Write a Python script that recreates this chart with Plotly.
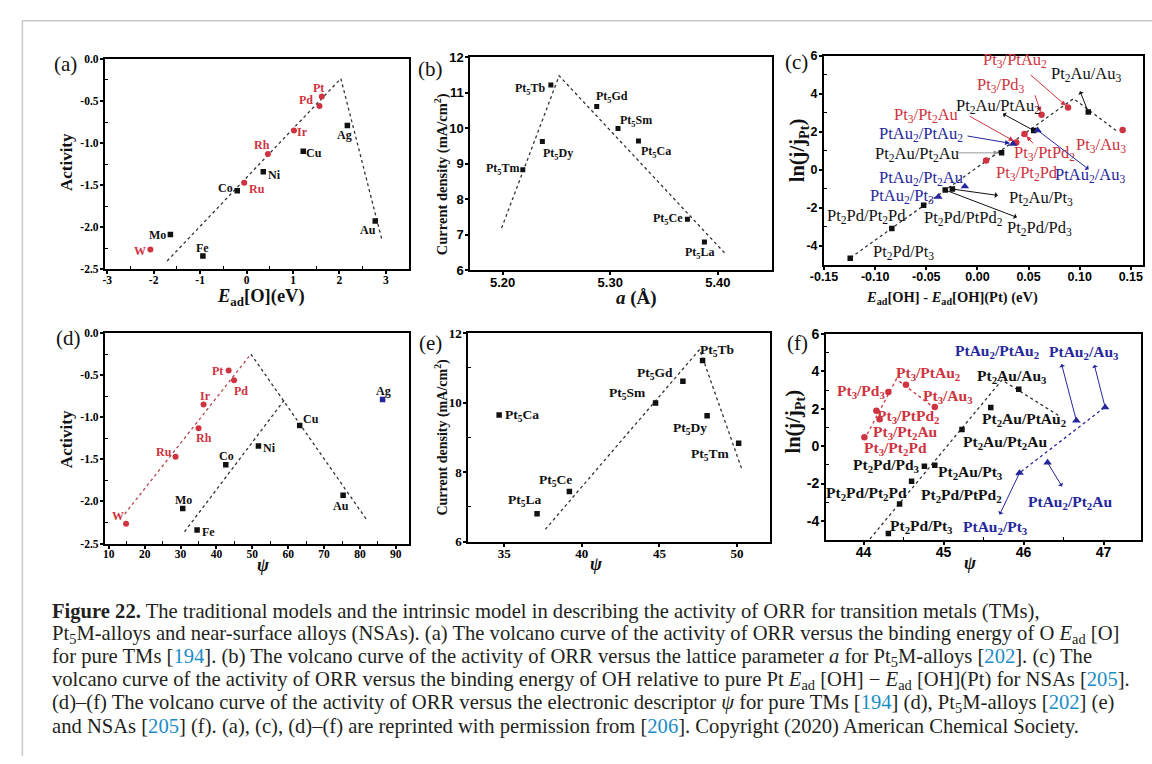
import plotly.graph_objects as go

FIG_W, FIG_H = 1152, 764

# ---------------- data ----------------
# Pure transition metals: ORR activity vs E_ad[O] (a) and vs psi (d)
tm_names = ["Pt", "Pd", "Ir", "Rh", "Ru", "W", "Ag", "Cu", "Ni", "Co", "Mo", "Fe", "Au"]
tm_activity = [-0.445, -0.56, -0.85, -1.13, -1.47, -2.265, -0.79, -1.097, -1.34, -1.565, -2.085, -2.34, -1.925]
tm_e_ad_o = [1.62, 1.57, 1.02, 0.46, -0.05, -2.07, 2.17, 1.22, 0.36, -0.20, -1.64, -0.94, 2.77]
tm_psi = [43.4, 44.9, 36.4, 35.0, 28.6, 14.8, 86.3, 63.2, 51.7, 42.6, 30.6, 34.6, 75.3]
tm_red = ["Pt", "Pd", "Ir", "Rh", "Ru", "W"]

# Pt5M alloys: current density vs lattice parameter (b) and vs psi (e)
pt5_m = ["Tb", "Gd", "Sm", "Ca", "Dy", "Tm", "Ce", "La"]
pt5_current = [11.21, 10.61, 9.99, 9.64, 9.62, 8.83, 7.44, 6.80]
pt5_lattice = [5.2448, 5.2874, 5.3072, 5.3262, 5.2369, 5.2187, 5.3717, 5.3875]
pt5_psi = [47.78, 46.51, 44.75, 34.68, 48.07, 50.10, 39.20, 37.12]

# Near-surface alloys: ln(j/jPt) vs dE_ad[OH] (c) and vs psi (f)
nsa_names = ["Pt3/PtAu2", "Pt3/Pd3", "Pt3/Au3", "Pt3/PtPd2", "Pt3/Pt2Au", "Pt3/Pt2Pd",
             "Pt2Au/Au3", "Pt2Au/PtAu2", "Pt2Au/Pt2Au", "Pt2Au/Pt3", "Pt2Pd/Pd3",
             "Pt2Pd/PtPd2", "Pt2Pd/Pt2Pd", "Pt2Pd/Pt3",
             "PtAu2/PtAu2", "PtAu2/Au3", "PtAu2/Pt2Au", "PtAu2/Pt3"]
nsa_family = ["Pt3"] * 6 + ["Pt2"] * 8 + ["PtAu2"] * 4
nsa_ln_j = [3.28, 2.90, 2.09, 1.89, 1.44, 0.48,
            3.05, 2.07, 0.89, -1.02, -1.07, -1.88, -3.10, -4.67,
            1.37, 2.08, -0.88, -1.43]
nsa_d_e_oh = [0.0886, 0.0627, 0.142, 0.046, 0.038, 0.0085,
              0.1084, 0.055, 0.0236, -0.0245, -0.0315, -0.0526, -0.0837, -0.1244,
              0.0348, 0.0588, -0.0123, -0.0382]
nsa_psi = [44.53, 44.31, 44.89, 44.16, 44.20, 44.01,
           45.94, 45.59, 45.23, 44.89, 44.76, 44.60, 44.45, 44.31,
           46.66, 47.02, 46.30, 45.95]

# volcano guide lines
a_guide_x = [-1.71, 2.03, 2.91]
a_guide_y = [-2.40, -0.233, -2.14]
b_guide_x = [5.199, 5.2525, 5.4066]
b_guide_y = [7.19, 11.47, 6.48]
c_guide_x = [-0.124, 0.094, 0.1357]
c_guide_y = [-4.64, 3.75, 2.06]
d_guide_red_x = [14.4, 49.6]
d_guide_red_y = [-2.15, -0.25]
d_guide_black_x = [49.6, 81.75]
d_guide_black_y = [-0.25, -2.21]
d_guide_black2_x = [31.1, 59.0]
d_guide_black2_y = [-2.36, -0.79]
e_guide_x = [37.65, 47.59, 50.3]
e_guide_y = [6.35, 11.53, 8.09]
f_guide_red_x = [44.01, 44.41, 44.90]
f_guide_red_y = [0.36, 3.59, 2.00]
f_guide_black_x = [44.08, 45.73, 46.46]
f_guide_black_y = [-4.96, 3.54, 1.58]
f_guide_blue_x = [45.91, 47.02]
f_guide_blue_y = [-1.56, 2.10]

# tick labels
a_xticks = [-3, -2, -1, 0, 1, 2, 3]
a_yticks = [0, -0.5, -1.0, -1.5, -2.0, -2.5]
a_yticklabels = ["0.0", "-0.5", "-1.0", "-1.5", "-2.0", "-2.5"]
b_xticks = [5.20, 5.30, 5.40]
b_xticklabels = ["5.20", "5.30", "5.40"]
b_yticks = [6, 7, 8, 9, 10, 11, 12]
c_xticks = [-0.15, -0.10, -0.05, 0.0, 0.05, 0.10, 0.15]
c_xticklabels = ["-0.15", "-0.10", "-0.05", "0.00", "0.05", "0.10", "0.15"]
c_yticks = [-4, -2, 0, 2, 4, 6]
d_xticks = [10, 20, 30, 40, 50, 60, 70, 80, 90]
e_xticks = [35, 40, 45, 50]
e_yticks = [6, 8, 10, 12]
f_xticks = [44, 45, 46, 47]
f_yticks = [-4, -2, 0, 2, 4, 6]

# ---------------- style ----------------
RED = "#cf3340"
BLUE = "#26269c"
BLACK = "#111111"
GUIDE = "#333333"
SERIF = "Liberation Serif"
SANS = "Liberation Sans"
FAMILY_COLOR = {"Pt3": RED, "Pt2": BLACK, "PtAu2": BLUE}
FAMILY_SYMBOL = {"Pt3": "circle", "Pt2": "square", "PtAu2": "triangle-up"}
FAMILY_SIZE = {"Pt3": 6.5, "Pt2": 5.5, "PtAu2": 7.5}

fig = go.Figure()


def ref(n):
    return ("x", "y") if n == 1 else (f"x{n}", f"y{n}")


def sub_html(name):
    # turn "Pt2Au/PtAu2" into HTML with subscript digits
    out = ""
    for ch in name:
        out += f"<sub>{ch}</sub>" if ch.isdigit() else ch
    return out


def setup_axes(n, box, xr, yr, xt, xtl, yt, ytl, tfont, xminor=None, yminor=None):
    x0, y0, x1, y1 = box
    xa = dict(domain=[x0 / FIG_W, x1 / FIG_W], range=xr, anchor=ref(n)[1],
              showline=True, linecolor="black", linewidth=2, mirror=True,
              ticks="outside", ticklen=3, tickwidth=1.5, tickcolor="black",
              tickvals=xt, ticktext=xtl, tickfont=tfont, ticklabelstandoff=-4,
              showgrid=False, zeroline=False)
    ya = dict(domain=[1 - y1 / FIG_H, 1 - y0 / FIG_H], range=yr, anchor=ref(n)[0],
              showline=True, linecolor="black", linewidth=2, mirror=True,
              ticks="outside", ticklen=3, tickwidth=1.5, tickcolor="black",
              tickvals=yt, ticktext=ytl, tickfont=tfont, ticklabelstandoff=-1,
              showgrid=False, zeroline=False)
    if xminor:
        xa["minor"] = dict(tickvals=xminor, ticks="inside", ticklen=3, tickwidth=1.2, tickcolor="black")
    if yminor:
        ya["minor"] = dict(tickvals=yminor, ticks="inside", ticklen=3, tickwidth=1.2, tickcolor="black")
    key = "" if n == 1 else str(n)
    fig.update_layout(**{f"xaxis{key}": xa, f"yaxis{key}": ya})


def guide(n, xs, ys, color=GUIDE):
    xr_, yr_ = ref(n)
    fig.add_trace(go.Scatter(x=xs, y=ys, mode="lines", xaxis=xr_, yaxis=yr_,
                             line=dict(color=color, width=1.3, dash="3px,3px"),
                             hoverinfo="skip", showlegend=False))


def points(n, xs, ys, color, symbol, size):
    xr_, yr_ = ref(n)
    fig.add_trace(go.Scatter(x=xs, y=ys, mode="markers", xaxis=xr_, yaxis=yr_,
                             marker=dict(color=color, symbol=symbol, size=size,
                                         line=dict(width=0)),
                             showlegend=False))


def label(n, x, y, text, dx, dy, color, size, family=SERIF, bold=True):
    xr_, yr_ = ref(n)
    fig.add_annotation(x=x, y=y, xref=xr_, yref=yr_, text=text, showarrow=False,
                       xshift=dx, yshift=-dy,
                       font=dict(family=family, size=size, color=color,
                                 weight="bold" if bold else "normal"))


def arrow(n, x, y, tdx, tdy, side, color):
    xr_, yr_ = ref(n)
    fig.add_annotation(x=x, y=y, xref=xr_, yref=yr_, text="", showarrow=True,
                       ax=tdx, ay=tdy, axref="pixel", ayref="pixel",
                       arrowside=side, arrowhead=2, arrowsize=1, arrowwidth=1,
                       arrowcolor=color, standoff=3 if side == "end" else 0,
                       startstandoff=3 if side == "start" else 0)


def paper_text(px, py, text, size, family=SERIF, color=BLACK, angle=0, bold=True,
               xanchor="center"):
    fig.add_annotation(x=px / FIG_W, y=1 - py / FIG_H, xref="paper", yref="paper",
                       text=text, showarrow=False, textangle=angle, xanchor=xanchor,
                       yanchor="middle",
                       font=dict(family=family, size=size, color=color,
                                 weight="bold" if bold else "normal"))


# ---------------- axes ----------------
serif_tick = dict(family=SERIF, size=11.5, color="black", weight="bold")
setup_axes(1, (92, 52, 400, 267), [-3.05, 3.5], [-2.5, 0],
           a_xticks, [str(v) for v in a_xticks], a_yticks, a_yticklabels, serif_tick,
           xminor=[-2.5, -1.5, -0.5, 0.5, 1.5, 2.5], yminor=[-0.25, -0.75, -1.25, -1.75, -2.25])
setup_axes(2, (462, 50, 767, 268), [5.17, 5.45], [6, 12],
           b_xticks, b_xticklabels, b_yticks, [str(v) for v in b_yticks],
           dict(family=SANS, size=13, color="black", weight="bold"))
setup_axes(3, (820, 49, 1143, 262), [-0.15, 0.162], [-5, 6],
           c_xticks, c_xticklabels, c_yticks, [str(v) for v in c_yticks],
           dict(family=SANS, size=12.5, color="black", weight="bold"),
           yminor=[-3, -1, 1, 3, 5])
setup_axes(4, (92, 332, 400, 547), [8.9, 93.7], [-2.5, 0],
           d_xticks, [str(v) for v in d_xticks], a_yticks, a_yticklabels, serif_tick,
           xminor=[15, 25, 35, 45, 55, 65, 75, 85], yminor=[-0.25, -0.75, -1.25, -1.75, -2.25])
setup_axes(5, (460, 332, 765, 545), [32.7, 52.1], [6, 12],
           e_xticks, [str(v) for v in e_xticks], e_yticks, [str(v) for v in e_yticks],
           dict(family=SERIF, size=13, color="black", weight="bold"),
           yminor=[7, 9, 11])
setup_axes(6, (822, 333, 1141, 543), [43.53, 47.47], [-5, 6],
           f_xticks, [str(v) for v in f_xticks], f_yticks, [str(v) for v in f_yticks],
           dict(family=SANS, size=14, color="black", weight="bold"),
           xminor=[43.5, 44.5, 45.5, 46.5], yminor=[-3, -1, 1, 3, 5])

# ---------------- panel (a) ----------------
guide(1, a_guide_x, a_guide_y)
a_offsets = {"Pt": (-3, -8), "Pd": (-13, -6), "Ir": (9, 2), "Rh": (-6, -9), "Ru": (13, 6),
             "Co": (-12, -3), "Ni": (11, 3), "Cu": (11, 2), "Ag": (-3, 10), "Au": (-7, 9),
             "Mo": (-13, 1), "W": (-10, 1), "Fe": (0, -8)}
for nm, xv, yv in zip(tm_names, tm_e_ad_o, tm_activity):
    red = nm in tm_red
    points(1, [xv], [yv], RED if red else BLACK, "circle" if red else "square", 6 if red else 5.5)
    dx, dy = a_offsets[nm]
    label(1, xv, yv, nm, dx, dy, RED if red else BLACK, 12)

# ---------------- panel (d) ----------------
guide(4, d_guide_red_x, d_guide_red_y, color="#b84850")
guide(4, d_guide_black_x, d_guide_black_y)
guide(4, d_guide_black2_x, d_guide_black2_y)
d_offsets = {"Pt": (-11, 0), "Pd": (7, 11), "Ir": (2, -9), "Rh": (5, 10), "Ru": (-12, -5),
             "W": (-8, -8), "Ag": (1, -9), "Cu": (11, -6), "Ni": (11, 2), "Co": (1, -9),
             "Mo": (1, -9), "Fe": (11, 2), "Au": (-2, 11)}
for nm, xv, yv in zip(tm_names, tm_psi, tm_activity):
    red = nm in tm_red
    if red:
        col, sym, sz = RED, "circle", 6
    elif nm == "Ag":
        col, sym, sz = BLUE, "square", 5.5
    else:
        col, sym, sz = BLACK, "square", 5.5
    points(4, [xv], [yv], col, sym, sz)
    dx, dy = d_offsets[nm]
    label(4, xv, yv, nm, dx, dy, RED if red else BLACK, 12)

# ---------------- panel (b) ----------------
guide(2, b_guide_x, b_guide_y)
points(2, pt5_lattice, pt5_current, BLACK, "square", 5)
b_offsets = {"Tb": (-20, 4), "Gd": (15, -9), "Sm": (18, -7), "Ca": (18, 11), "Dy": (16, 12),
             "Tm": (-20, -1), "Ce": (-19, 0), "La": (-4, 11)}
for m, xv, yv in zip(pt5_m, pt5_lattice, pt5_current):
    dx, dy = b_offsets[m]
    label(2, xv, yv, f"Pt<sub>5</sub>{m}", dx, dy, BLACK, 12)

# ---------------- panel (e) ----------------
guide(5, e_guide_x, e_guide_y)
points(5, pt5_psi, pt5_current, BLACK, "square", 5.5)
e_offsets = {"Tb": (14, -10), "Gd": (-28, -8), "Sm": (-28, -9), "Ca": (23, 0), "Dy": (-17, 13),
             "Tm": (-29, 11), "Ce": (-14, -11), "La": (-13, -13)}
for m, xv, yv in zip(pt5_m, pt5_psi, pt5_current):
    dx, dy = e_offsets[m]
    label(5, xv, yv, f"Pt<sub>5</sub>{m}", dx, dy, BLACK, 13.5)

# ---------------- panel (c) ----------------
guide(3, c_guide_x, c_guide_y)
c_offsets = {"Pt3/PtAu2": (-53, -48), "Pt3/Pd3": (-41, -30), "Pt3/Au3": (-22, 15),
             "Pt3/PtPd2": (20, 19), "Pt3/Pt2Au": (-90, -27), "Pt3/Pt2Pd": (41, 12),
             "Pt2Au/Au3": (-2, -38), "Pt2Au/PtAu2": (-36, -24), "Pt2Au/Pt2Au": (-85, 1),
             "Pt2Au/Pt3": (89, 9), "Pt2Pd/Pd3": (94, 38), "Pt2Pd/PtPd2": (40, 13),
             "Pt2Pd/Pt2Pd": (-25, -12), "Pt2Pd/Pt3": (53, -6),
             "PtAu2/PtAu2": (-92, -10), "PtAu2/Au3": (52, 45), "PtAu2/Pt2Au": (-44, -8),
             "PtAu2/Pt3": (-36, -1)}
# (tail dx, tail dy, arrowhead side)
c_arrows = {"Pt3/PtAu2": (-39, -34, "end"), "Pt3/Pd3": (-7, -21, "end"),
            "Pt3/PtPd2": (10, 11, "end"), "Pt3/Pt2Au": (-48, -27, "end"),
            "PtAu2/Au3": (55, 42, "start"), "PtAu2/PtAu2": (-47, -8, "end"),
            "Pt2Au/Au3": (-10, -25, "start"), "Pt2Au/PtAu2": (-35, -19, "start"),
            "Pt2Au/Pt2Au": (-45, 0, "end"), "Pt2Au/Pt3": (50, 7, "start"),
            "Pt2Pd/Pd3": (76, 29, "start")}
for fam in ["Pt2", "Pt3", "PtAu2"]:
    xs = [x for x, f in zip(nsa_d_e_oh, nsa_family) if f == fam]
    ys = [y for y, f in zip(nsa_ln_j, nsa_family) if f == fam]
    points(3, xs, ys, FAMILY_COLOR[fam], FAMILY_SYMBOL[fam], FAMILY_SIZE[fam])
for nm, fam, xv, yv in zip(nsa_names, nsa_family, nsa_d_e_oh, nsa_ln_j):
    col = FAMILY_COLOR[fam]
    if nm in c_arrows:
        tdx, tdy, side = c_arrows[nm]
        arrow(3, xv, yv, tdx, tdy, side, "#999999" if nm == "Pt2Au/Pt2Au" else col)
    dx, dy = c_offsets[nm]
    label(3, xv, yv, sub_html(nm), dx, dy, col, 16.5, bold=False)

# ---------------- panel (f) ----------------
guide(6, f_guide_red_x, f_guide_red_y, color=RED)
guide(6, f_guide_black_x, f_guide_black_y)
guide(6, f_guide_blue_x, f_guide_blue_y, color=BLUE)
f_offsets = {"Pt3/PtAu2": (22, -11), "Pt3/Pd3": (-27, 0), "Pt3/Au3": (13, -11),
             "Pt3/PtPd2": (32, 6), "Pt3/Pt2Au": (26, 13), "Pt3/Pt2Pd": (31, 11),
             "Pt2Au/Au3": (-7, -13), "Pt2Au/PtAu2": (33, 12), "Pt2Au/Pt2Au": (43, 13),
             "Pt2Au/Pt3": (36, 7), "Pt2Pd/Pd3": (-38, -1), "Pt2Pd/PtPd2": (50, 14),
             "Pt2Pd/Pt2Pd": (-33, -11), "Pt2Pd/Pt3": (33, -7),
             "PtAu2/PtAu2": (-79, -69), "PtAu2/Au3": (-21, -55), "PtAu2/Pt2Au": (22, 40),
             "PtAu2/Pt3": (-24, 55)}
f_arrows = {"PtAu2/PtAu2": (-16, -61, "start"), "PtAu2/Au3": (-12, -47, "start"),
            "PtAu2/Pt2Au": (17, 28, "start"), "PtAu2/Pt3": (-22, 46, "start")}
for fam in ["Pt2", "Pt3", "PtAu2"]:
    xs = [x for x, f in zip(nsa_psi, nsa_family) if f == fam]
    ys = [y for y, f in zip(nsa_ln_j, nsa_family) if f == fam]
    points(6, xs, ys, FAMILY_COLOR[fam], FAMILY_SYMBOL[fam], FAMILY_SIZE[fam])
for nm, fam, xv, yv in zip(nsa_names, nsa_family, nsa_psi, nsa_ln_j):
    col = FAMILY_COLOR[fam]
    if nm in f_arrows:
        tdx, tdy, side = f_arrows[nm]
        arrow(6, xv, yv, tdx, tdy, side, col)
    dx, dy = f_offsets[nm]
    label(6, xv, yv, sub_html(nm), dx, dy, col, 15.5, bold=True)

# ---------------- axis titles and panel letters ----------------
paper_text(53, 157, "Activity", 17, angle=-90)
paper_text(250, 296, "<i>E</i><sub>ad</sub>[O](eV)", 18.5)
paper_text(433, 170, "Current density (mA/cm<sup>2</sup>)", 14.5, angle=-90)
paper_text(630, 296, "<i>a</i> (Å)", 19)
paper_text(795, 145, "ln(j/j<sub>Pt</sub>)", 20.5, angle=-90)
paper_text(950, 296, "<i>E</i><sub>ad</sub>[OH] - <i>E</i><sub>ad</sub>[OH](Pt) (eV)", 14.5)
paper_text(53, 440, "Activity", 17, angle=-90)
paper_text(253, 569, "<i>ψ</i>", 18)
paper_text(433, 438, "Current density (mA/cm<sup>2</sup>)", 14, angle=-90)
paper_text(590, 568, "<i>ψ</i>", 18)
paper_text(790, 422, "ln(j/j<sub>Pt</sub>)", 20.5, angle=-90)
paper_text(968, 567, "<i>ψ</i>", 18)

for letter, px, py in [("(a)", 52, 57), ("(b)", 422, 62), ("(c)", 792, 55),
                       ("(d)", 55, 337), ("(e)", 422, 342), ("(f)", 793, 342)]:
    paper_text(px, py, letter, 21, bold=False)

# ---------------- caption ----------------
REFC = "#1c8cc6"


def cite(n):
    return f"[<span style='color:{REFC}'>{n}</span>]"


caption_lines = [
    "<b>Figure 22.</b> The traditional models and the intrinsic model in describing the activity of ORR for transition metals (TMs),",
    "Pt<sub>5</sub>M-alloys and near-surface alloys (NSAs). (a) The volcano curve of the activity of ORR versus the binding energy of O <i>E</i><sub>ad</sub> [O]",
    f"for pure TMs {cite(194)}. (b) The volcano curve of the activity of ORR versus the lattice parameter <i>a</i> for Pt<sub>5</sub>M-alloys {cite(202)}. (c) The",
    f"volcano curve of the activity of ORR versus the binding energy of OH relative to pure Pt <i>E</i><sub>ad</sub> [OH] − <i>E</i><sub>ad</sub> [OH](Pt) for NSAs {cite(205)}.",
    f"(d)–(f) The volcano curve of the activity of ORR versus the electronic descriptor <i>ψ</i> for pure TMs {cite(194)} (d), Pt<sub>5</sub>M-alloys {cite(202)} (e)",
    f"and NSAs {cite(205)} (f). (a), (c), (d)–(f) are reprinted with permission from {cite(206)}. Copyright (2020) American Chemical Society.",
]
for i, line in enumerate(caption_lines):
    paper_text(36, 616 + 23.5 * i, line, 20.6, color="#231f20", bold=False, xanchor="left")

# light frame around the figure block
fig.add_shape(type="line", xref="paper", yref="paper", x0=8 / FIG_W, x1=1.0,
              y0=1 - 13 / FIG_H, y1=1 - 13 / FIG_H, line=dict(color="#c8c8c8", width=1.5))
fig.add_shape(type="line", xref="paper", yref="paper", x0=8.5 / FIG_W, x1=8.5 / FIG_W,
              y0=0, y1=1 - 13 / FIG_H, line=dict(color="#c8c8c8", width=1.5))

fig.update_layout(width=FIG_W, height=FIG_H, margin=dict(l=0, r=0, t=0, b=0),
                  paper_bgcolor="white", plot_bgcolor="white", showlegend=False,
                  font=dict(family=SERIF, color="black"))

fig.write_html("out.html")
